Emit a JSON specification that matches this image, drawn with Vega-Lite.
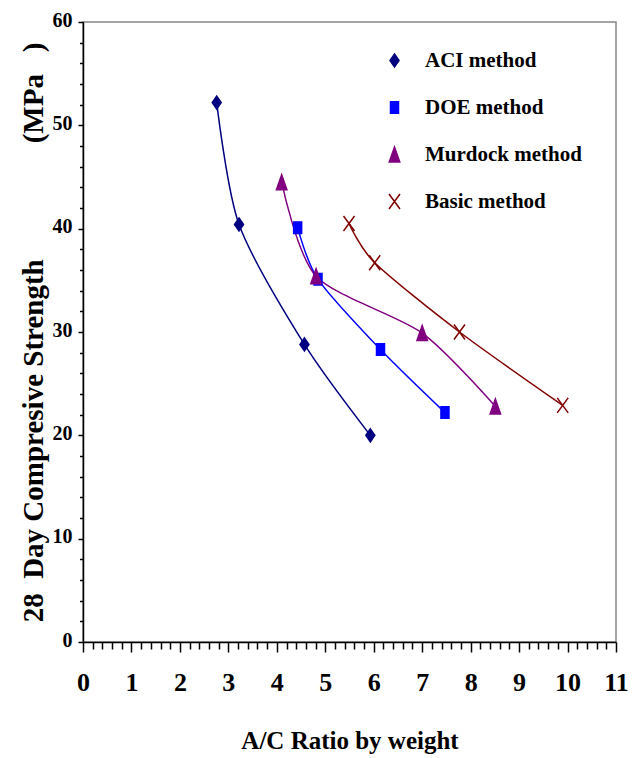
{
  "$schema": "https://vega.github.io/schema/vega-lite/v6.json",
  "width": 533,
  "height": 620,
  "autosize": {"type": "none"},
  "padding": {"left": 83, "top": 22, "right": 28, "bottom": 116},
  "background": "white",
  "config": {
    "font": "Liberation Serif",
    "view": {"stroke": "#888888", "strokeWidth": 1.5},
    "axis": {"grid": false, "domainColor": "black", "domainWidth": 1.5, "tickColor": "black", "tickWidth": 1.5, "labelColor": "black", "titleColor": "black", "labelFontWeight": "bold", "titleFontWeight": "bold", "labelFont": "Liberation Serif", "titleFont": "Liberation Serif"},
    "legend": {"labelFont": "Liberation Serif", "labelFontWeight": "bold", "labelColor": "black"}
  },
  "data": {
    "values": [
      {"method": "ACI method", "ratio": 2.76, "strength": 52.2},
      {"method": "ACI method", "ratio": 3.22, "strength": 40.4},
      {"method": "ACI method", "ratio": 4.57, "strength": 28.8},
      {"method": "ACI method", "ratio": 5.93, "strength": 20.0},
      {"method": "DOE method", "ratio": 4.43, "strength": 40.1},
      {"method": "DOE method", "ratio": 4.85, "strength": 35.1},
      {"method": "DOE method", "ratio": 6.14, "strength": 28.3},
      {"method": "DOE method", "ratio": 7.47, "strength": 22.2},
      {"method": "Murdock method", "ratio": 4.10, "strength": 44.5},
      {"method": "Murdock method", "ratio": 4.81, "strength": 35.4},
      {"method": "Murdock method", "ratio": 7.00, "strength": 29.9},
      {"method": "Murdock method", "ratio": 8.51, "strength": 22.8},
      {"method": "Basic method", "ratio": 5.49, "strength": 40.5},
      {"method": "Basic method", "ratio": 6.02, "strength": 36.7},
      {"method": "Basic method", "ratio": 7.77, "strength": 30.0},
      {"method": "Basic method", "ratio": 9.90, "strength": 22.9}
    ]
  },
  "encoding": {
    "x": {
      "field": "ratio", "type": "quantitative",
      "scale": {"domain": [0, 11], "nice": false, "zero": false},
      "axis": {
        "title": "A/C Ratio by weight",
        "values": [0,0.2,0.4,0.6,0.8,1,1.2,1.4,1.6,1.8,2,2.2,2.4,2.6,2.8,3,3.2,3.4,3.6,3.8,4,4.2,4.4,4.6,4.8,5,5.2,5.4,5.6,5.8,6,6.2,6.4,6.6,6.8,7,7.2,7.4,7.6,7.8,8,8.2,8.4,8.6,8.8,9,9.2,9.4,9.6,9.8,10,10.2,10.4,10.6,10.8,11],
        "tickSize": {"condition": {"test": "abs(datum.value - round(datum.value)) > 0.01", "value": 7}, "value": 10},
        "labelExpr": "abs(datum.value - round(datum.value)) > 0.01 ? '' : '' + round(datum.value)",
        "labelOverlap": false,
        "labelFlush": false,
        "labelFontSize": 26,
        "labelBaseline": "alphabetic",
        "labelPadding": 38,
        "titleFontSize": 25,
        "titleBaseline": "alphabetic",
        "titleY": 106
      }
    },
    "y": {
      "field": "strength", "type": "quantitative",
      "scale": {"domain": [0, 60], "nice": false, "zero": false},
      "axis": {
        "title": "28\u00a0\u00a0Day Compresive Strength\u00a0\u00a0\u00a0\u00a0\u00a0\u00a0\u00a0\u00a0\u00a0\u00a0\u00a0\u00a0\u00a0\u00a0\u00a0\u00a0(MPa\u00a0\u00a0\u00a0)",
        "values": [0,2,4,6,8,10,12,14,16,18,20,22,24,26,28,30,32,34,36,38,40,42,44,46,48,50,52,54,56,58,60],
        "tickSize": {"condition": {"test": "datum.value % 10 !== 0", "value": 3.5}, "value": 5},
        "labelExpr": "datum.value % 10 !== 0 ? '' : datum.label",
        "labelOverlap": false,
        "labelFlush": false,
        "labelFontSize": 20,
        "labelPadding": 6,
        "labelOffset": -2,
        "titleFontSize": 29,
        "titleBaseline": "alphabetic",
        "titleX": -41,
        "titleY": 310,
        "titleAngle": -90,
        "titleAlign": "center"
      }
    }
  },
  "layer": [
    {
      "mark": {"type": "line", "interpolate": "cardinal", "tension": 0.2, "strokeWidth": 1.5},
      "encoding": {
        "color": {
          "field": "method", "type": "nominal",
          "scale": {"domain": ["ACI method", "DOE method", "Murdock method", "Basic method"], "range": ["#000080", "#0000ff", "#800080", "#800000"]},
          "legend": {
            "title": null,
            "orient": "none",
            "legendX": 301,
            "legendY": 28,
            "labelFontSize": 21,
            "labelOffset": 20,
            "rowPadding": 25
          }
        }
      }
    },
    {
      "mark": {"type": "point", "filled": true, "opacity": 1, "size": 100, "strokeWidth": 1.5},
      "encoding": {
        "fill": {
          "field": "method", "type": "nominal", "legend": null,
          "scale": {"domain": ["ACI method", "DOE method", "Murdock method", "Basic method"], "range": ["#000080", "#0000ff", "#800080", "#800000"]}
        },
        "stroke": {
          "field": "method", "type": "nominal", "legend": null,
          "scale": {"domain": ["ACI method", "DOE method", "Murdock method", "Basic method"], "range": ["#000080", "#0000ff", "#800080", "#800000"]}
        },
        "shape": {
          "field": "method", "type": "nominal", "legend": null,
          "scale": {"domain": ["ACI method", "DOE method", "Murdock method", "Basic method"], "range": ["M0,-1.3L0.9,0L0,1.3L-0.9,0Z", "M-0.8,-1.15H0.8V1.15H-0.8Z", "M0,-1.5L1.05,1.5L-1.05,1.5Z", "M-1.1,-1.5L1.1,1.5M-1.1,1.5L1.1,-1.5"]}
        }
      }
    }
  ]
}
